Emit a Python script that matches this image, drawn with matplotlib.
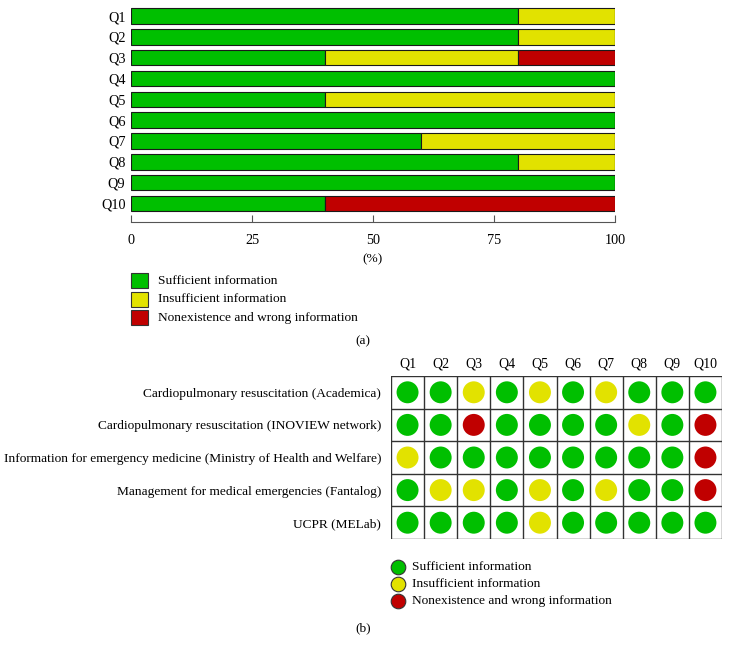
import matplotlib
matplotlib.use('Agg')
import matplotlib.pyplot as plt
from matplotlib.patches import Rectangle
from matplotlib.lines import Line2D

plt.rcParams['font.family'] = ['Liberation Serif', 'DejaVu Serif']

# Data
questions = ['Q1', 'Q2', 'Q3', 'Q4', 'Q5', 'Q6', 'Q7', 'Q8', 'Q9', 'Q10']
sufficient = [80, 80, 40, 100, 40, 100, 60, 80, 100, 40]
insufficient = [20, 20, 40, 0, 60, 0, 40, 20, 0, 0]
nonexistent = [0, 0, 20, 0, 0, 0, 0, 0, 0, 60]

apps = ['Cardiopulmonary resuscitation (Academica)',
        'Cardiopulmonary resuscitation (INOVIEW network)',
        'Information for emergency medicine (Ministry of Health and Welfare)',
        'Management for medical emergencies (Fantalog)',
        'UCPR (MELab)']
ratings = [['S', 'S', 'I', 'S', 'I', 'S', 'I', 'S', 'S', 'S'],
           ['S', 'S', 'N', 'S', 'S', 'S', 'S', 'I', 'S', 'N'],
           ['I', 'S', 'S', 'S', 'S', 'S', 'S', 'S', 'S', 'N'],
           ['S', 'I', 'I', 'S', 'I', 'S', 'I', 'S', 'S', 'N'],
           ['S', 'S', 'S', 'S', 'I', 'S', 'S', 'S', 'S', 'S']]

legend_labels = ['Sufficient information', 'Insufficient information',
                 'Nonexistence and wrong information']
colors = {'S': '#00BF00', 'I': '#E2E200', 'N': '#C00000'}
col_list = [colors['S'], colors['I'], colors['N']]

W, H = 730, 653
FS = 9.6
fig = plt.figure(figsize=(W / 100, H / 100), dpi=100)


def fx(px):
    return px / W


def fy(py):
    return 1 - py / H


# (a) stacked bars
ax = fig.add_axes([fx(131), fy(222), fx(615) - fx(131), (222 - 5.6) / H])
ypos = list(range(len(questions)))
left = [0] * len(questions)
for vals, c in zip([sufficient, insufficient, nonexistent], col_list):
    ax.barh(ypos, vals, left=left, height=0.74, color=c,
            edgecolor='#1a1a1a', linewidth=0.8)
    left = [l + v for l, v in zip(left, vals)]
ax.set_xlim(0, 100)
ax.set_ylim(9.89, -0.5)
ax.set_yticks(ypos)
ax.set_yticklabels(questions, fontsize=10.3)
ax.tick_params(axis='y', length=0, pad=4)
ax.set_xticks([0, 25, 50, 75, 100])
ax.tick_params(axis='x', direction='in', length=5, color='#555555',
               labelsize=10.3, pad=9)
for s in ['top', 'right', 'left']:
    ax.spines[s].set_visible(False)
ax.spines['bottom'].set_color('#555555')
fig.text(fx(373), fy(259), '(%)', ha='center', va='center', fontsize=FS)

for i, (lab, c) in enumerate(zip(legend_labels, col_list)):
    yc = 280.5 + i * 18.5
    fig.patches.append(Rectangle((fx(131), fy(yc + 7.5)), fx(17), 15 / H,
                                 transform=fig.transFigure, facecolor=c,
                                 edgecolor='#333333', linewidth=0.8))
    fig.text(fx(158), fy(yc), lab, ha='left', va='center', fontsize=FS)
fig.text(fx(363), fy(341), '(a)', ha='center', va='center', fontsize=FS)

# (b) rating grid
ax2 = fig.add_axes([fx(391), fy(539), fx(722) - fx(391), (539 - 376) / H])
for r, row in enumerate(ratings):
    ax2.scatter(range(len(row)), [r] * len(row), s=250,
                c=[colors[v] for v in row], edgecolors='none', zorder=3)
ax2.set_xlim(-0.5, 9.5)
ax2.set_ylim(4.5, -0.5)
for k in range(11):
    ax2.axvline(k - 0.5, color='#333333', linewidth=1.0)
for k in range(6):
    ax2.axhline(k - 0.5, color='#333333', linewidth=1.0)
for s in ax2.spines.values():
    s.set_visible(False)
ax2.xaxis.tick_top()
ax2.set_xticks(range(len(questions)))
ax2.set_xticklabels(questions, fontsize=10)
ax2.set_yticks(range(len(apps)))
ax2.set_yticklabels(apps, fontsize=9.6)
ax2.tick_params(length=0, pad=7)
ax2.tick_params(axis='x', pad=4)

for i, (lab, c) in enumerate(zip(legend_labels, col_list)):
    yc = 567 + i * 17
    fig.add_artist(Line2D([fx(398)], [fy(yc)], transform=fig.transFigure,
                          marker='o', linestyle='none', markersize=10.5,
                          markerfacecolor=c, markeredgecolor='#333333',
                          markeredgewidth=0.8))
    fig.text(fx(412), fy(yc), lab, ha='left', va='center', fontsize=FS)
fig.text(fx(363), fy(628), '(b)', ha='center', va='center', fontsize=FS)

fig.savefig('out.png', dpi=100)
